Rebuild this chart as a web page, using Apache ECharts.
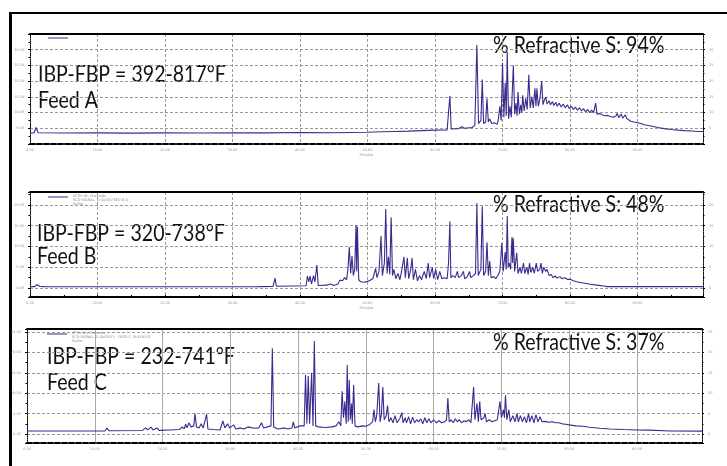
<!DOCTYPE html>
<html><head><meta charset="utf-8">
<script src="https://cdn.jsdelivr.net/npm/echarts@6/dist/echarts.min.js"></script>
<style>html,body{margin:0;padding:0;background:#fff}#c{width:727px;height:466px}</style>
</head><body><div id="c"></div>
<script>
// Retention time (min) / signal pairs
const feedA = [[0,0.70],[0.6,0.70],[0.9,1.05],[1.2,0.72],[5,0.70],[10,0.71],[15,0.69],[20,0.71],[25,0.70],[30,0.72],[35,0.71],[40,0.73],[45,0.72],[50,0.75],[52,0.78],[54,0.80],[56,0.82],[58,0.85],[60,0.88],[61.8,0.90],[62.0,2.0],[62.2,3.06],[62.4,0.95],[63.5,0.98],[64.0,1.10],[64.3,1.0],[65.5,1.05],[65.9,1.2],[66.2,6.3],[66.45,1.3],[66.8,1.5],[67.0,4.1],[67.2,1.3],[67.5,1.4],[67.7,2.9],[67.9,1.4],[68.1,1.6],[68.4,1.3],[68.8,1.35],[69.2,1.25],[69.4,1.6],[69.6,2.4],[69.8,1.5],[70.0,5.15],[70.2,1.7],[70.4,3.9],[70.55,1.8],[70.7,5.85],[70.9,1.6],[71.1,2.4],[71.3,1.7],[71.6,5.0],[71.8,1.9],[72.0,2.6],[72.15,1.8],[72.3,3.3],[72.5,1.9],[72.7,2.5],[72.85,2.0],[73.0,3.1],[73.2,2.1],[73.45,2.9],[73.65,2.2],[73.9,4.4],[74.1,2.3],[74.35,3.0],[74.55,2.3],[74.8,3.55],[74.95,2.4],[75.1,3.55],[75.3,2.4],[75.55,2.9],[75.8,4.0],[76.0,2.5],[76.2,2.8],[76.4,3.0],[76.6,2.55],[76.9,2.75],[77.1,2.5],[77.4,2.7],[77.6,2.45],[77.9,2.65],[78.1,2.4],[78.4,2.6],[78.7,2.35],[79.0,2.55],[79.3,2.3],[79.6,2.5],[79.9,2.25],[80.2,2.4],[80.5,2.2],[80.8,2.35],[81.1,2.15],[81.4,2.3],[81.7,2.1],[82.0,2.25],[82.3,2.05],[82.6,2.2],[82.9,2.0],[83.2,2.15],[83.5,2.0],[83.8,2.6],[84.0,1.9],[84.4,1.95],[84.8,1.85],[85.2,1.8],[85.6,1.82],[86.0,1.75],[86.4,1.7],[86.8,1.78],[87.0,1.95],[87.2,1.68],[87.6,1.9],[87.8,1.65],[88.2,1.85],[88.4,1.62],[89.0,1.45],[89.5,1.4],[90.0,1.35],[90.5,1.3],[91.0,1.22],[92.0,1.15],[93.0,1.05],[94.0,0.98],[95.0,0.92],[96.0,0.88],[97.0,0.85],[98.0,0.83],[99.0,0.8],[99.7,0.8]];
const feedB = [[0,0.07],[0.7,0.07],[1.0,0.17],[1.4,0.09],[2,0.07],[10,0.06],[20,0.06],[30,0.06],[34,0.07],[36.0,0.08],[36.3,0.48],[36.5,0.09],[39,0.1],[40.9,0.11],[41.1,0.58],[41.3,0.3],[41.5,0.58],[41.7,0.2],[42.0,0.6],[42.2,0.3],[42.5,1.1],[42.7,0.12],[44.0,0.14],[44.5,0.2],[45.0,0.12],[45.6,0.2],[45.9,0.38],[46.3,0.35],[46.6,0.5],[46.9,0.4],[47.1,0.9],[47.3,1.97],[47.5,0.7],[47.7,1.54],[47.9,0.6],[48.1,0.9],[48.3,3.03],[48.4,0.8],[48.5,2.95],[48.7,0.4],[49.0,0.3],[49.5,0.28],[50.0,0.32],[50.4,0.38],[50.8,0.45],[51.0,0.7],[51.2,0.95],[51.4,0.5],[51.7,0.8],[52.0,2.5],[52.2,0.6],[52.5,1.2],[52.7,3.8],[52.9,0.7],[53.1,1.5],[53.3,0.65],[53.5,3.4],[53.7,0.6],[53.9,0.9],[54.2,0.45],[54.5,0.7],[54.8,0.4],[55.1,0.9],[55.4,1.5],[55.6,0.5],[55.9,1.45],[56.1,0.45],[56.4,0.9],[56.6,1.45],[56.8,0.4],[57.1,0.9],[57.4,0.35],[57.7,0.6],[58.0,0.4],[58.4,0.8],[58.7,0.45],[59.0,1.2],[59.2,0.5],[59.6,1.0],[59.8,0.45],[60.1,0.9],[60.4,0.4],[60.7,0.8],[61.0,0.45],[61.4,0.5],[61.8,0.45],[62.0,1.2],[62.2,3.2],[62.35,0.5],[62.6,0.6],[63.0,0.5],[63.3,0.8],[63.5,0.5],[63.9,0.6],[64.2,0.8],[64.4,0.45],[64.8,0.55],[65.1,0.8],[65.3,0.5],[65.7,0.6],[66.0,0.7],[66.2,4.08],[66.4,0.6],[66.8,0.9],[67.0,3.94],[67.2,0.6],[67.5,0.8],[67.7,2.2],[67.9,0.6],[68.1,1.3],[68.3,0.5],[68.7,0.55],[69.0,0.45],[69.3,0.6],[69.6,0.8],[69.9,2.16],[70.1,0.8],[70.4,1.73],[70.55,0.9],[70.7,3.46],[70.85,1.0],[71.0,1.2],[71.2,0.9],[71.4,2.45],[71.5,1.2],[71.6,2.4],[71.8,0.8],[72.1,1.7],[72.3,0.7],[72.6,1.0],[72.8,0.7],[73.1,1.2],[73.3,0.7],[73.6,1.0],[73.8,0.65],[74.0,1.2],[74.2,0.75],[74.5,1.0],[74.7,0.7],[75.0,1.2],[75.2,0.8],[75.5,0.9],[75.7,1.2],[75.9,0.7],[76.1,1.0],[76.4,0.8],[76.6,0.9],[76.9,0.6],[77.2,0.65],[77.5,0.5],[77.8,0.58],[78.1,0.48],[78.5,0.55],[78.8,0.45],[79.2,0.5],[79.6,0.42],[80.0,0.42],[80.5,0.35],[81.0,0.3],[81.5,0.27],[82.0,0.24],[83.0,0.18],[84.0,0.14],[85.0,0.1],[85.5,0.07],[90,0.07],[99.7,0.07]];
const feedC = [[0,0.15],[5,0.15],[11.5,0.15],[11.8,0.29],[12.1,0.16],[17.0,0.17],[17.5,0.3],[17.8,0.2],[18.3,0.34],[18.6,0.2],[19.2,0.3],[19.5,0.18],[21,0.2],[22.5,0.22],[22.9,0.35],[23.2,0.25],[23.4,0.49],[23.6,0.3],[23.9,0.55],[24.2,0.35],[24.6,0.4],[24.8,1.0],[25.0,0.35],[25.4,0.3],[25.7,0.5],[26.0,0.3],[26.5,0.97],[26.7,0.25],[27.5,0.22],[28.5,0.2],[28.9,0.64],[29.2,0.3],[29.6,0.5],[29.9,0.3],[30.5,0.45],[30.8,0.25],[31.5,0.3],[32.0,0.25],[32.6,0.35],[33.5,0.28],[34.2,0.3],[34.6,0.55],[34.9,0.3],[35.5,0.35],[36.0,0.4],[36.2,4.2],[36.4,0.35],[37.0,0.25],[38.0,0.3],[38.5,0.25],[39.1,0.3],[39.3,0.6],[39.5,0.3],[40.3,0.4],[40.9,0.4],[41.1,2.9],[41.3,0.5],[41.5,2.85],[41.7,0.5],[42.0,3.0],[42.2,0.4],[42.4,4.56],[42.6,0.4],[43.0,0.35],[44.0,0.32],[45.0,0.35],[45.6,0.4],[46.0,0.6],[46.3,0.4],[46.5,2.1],[46.7,0.8],[46.9,1.6],[47.1,0.5],[47.25,3.38],[47.4,0.6],[47.55,2.65],[47.7,0.7],[47.9,1.5],[48.0,0.5],[48.2,2.4],[48.4,0.4],[48.8,0.35],[49.5,0.4],[50.0,0.38],[50.5,0.45],[51.0,0.6],[51.2,1.2],[51.4,0.6],[51.6,0.9],[51.9,2.5],[52.1,0.6],[52.3,1.0],[52.5,2.3],[52.7,0.7],[53.0,0.9],[53.2,1.4],[53.4,0.6],[53.7,0.8],[54.0,0.55],[54.3,0.9],[54.6,0.55],[55.0,0.75],[55.3,1.05],[55.5,0.55],[55.8,0.8],[56.0,0.55],[56.3,0.85],[56.6,0.5],[56.9,0.83],[57.2,0.55],[57.5,0.7],[57.8,0.6],[58.1,0.75],[58.4,0.5],[58.7,0.8],[59.0,0.55],[59.3,0.75],[59.6,0.55],[60.0,0.7],[60.4,0.55],[60.8,0.65],[61.2,0.55],[61.6,0.6],[61.9,0.7],[62.1,1.76],[62.3,0.6],[62.6,0.7],[62.9,0.55],[63.2,0.75],[63.5,0.6],[63.8,0.7],[64.1,0.55],[64.5,0.65],[64.8,0.6],[65.2,0.7],[65.5,0.55],[65.9,2.3],[66.1,0.7],[66.4,1.5],[66.6,0.6],[66.8,1.6],[67.0,0.7],[67.4,0.8],[67.6,1.0],[67.8,0.6],[68.2,0.7],[68.6,0.6],[69.0,0.65],[69.4,0.7],[69.8,1.6],[70.0,0.8],[70.3,1.2],[70.45,0.8],[70.6,1.9],[70.8,0.7],[71.1,1.2],[71.3,0.6],[71.7,0.9],[72.0,0.6],[72.3,1.0],[72.5,0.6],[72.8,0.9],[73.1,0.6],[73.4,0.85],[73.7,0.55],[74.0,1.0],[74.2,0.6],[74.5,0.9],[74.8,0.55],[75.1,0.95],[75.4,0.6],[75.7,0.85],[76.0,0.6],[76.5,0.62],[77.0,0.58],[77.5,0.6],[78.0,0.55],[78.5,0.55],[79.0,0.5],[79.5,0.48],[80.0,0.45],[81.0,0.4],[82.0,0.38],[83.0,0.33],[84.5,0.28],[86.0,0.25],[88.0,0.22],[90.0,0.2],[91.8,0.19],[92.0,0.15],[95.0,0.15],[99.6,0.14]];

const ibpLabels = ['IBP-FBP = 392-817°F', 'IBP-FBP = 320-738°F', 'IBP-FBP = 232-741°F'];
const feedLabels = ['Feed A', 'Feed B', 'Feed C'];
const sulfurLabels = ['% Refractive S: 94%', '% Refractive S: 48%', '% Refractive S: 37%'];
const xTickLabels = ['0.00','10.00','20.00','30.00','40.00','50.00','60.00','70.00','80.00','90.00'];

const LINE = '#3c2a8e';
const grids = [
  {left:30, top:34, width:673, height:110},
  {left:30, top:192, width:673, height:105},
  {left:27, top:329, width:675, height:114}
];
const yRange = [[0,7],[-0.43,4.62],[-0.44,5.15]];
const xMax = [99.7, 99.7, 99.6];
const bottomType = [[5,2],'solid',[5,2]];
const vGridType = [[3,2],[3,2],'solid'];

const tiny = {fontSize:3.5, color:'#999', fontFamily:'DejaVu Sans'};
const xAxes = [], yAxes = [], series = [];
const seriesData = [feedA, feedB, feedC];
for (let i = 0; i < 3; i++) {
  xAxes.push({
    gridIndex:i, type:'value', min:0, max:xMax[i], interval:10, position:'bottom',
    axisLine:{show:true, onZero:false, lineStyle:{color:'#000', width:2, type:bottomType[i]}},
    axisTick:{show:i===1, inside:true, length:2, lineStyle:{color:'#000'}},
    minorTick:{show:i===1, splitNumber:2, length:2, lineStyle:{color:'#000'}},
    axisLabel:Object.assign({margin:4, showMaxLabel:false, formatter:(v)=>{const k=Math.round(v/10); return (Math.abs(v-k*10)<1e-6 && xTickLabels[k]) ? xTickLabels[k] : '';}}, tiny),
    splitLine:{show:true, lineStyle:{color: i===2 ? '#aaa' : '#999', width:1, type:vGridType[i]}},
    name: i<2 ? 'Minutes' : '——', nameLocation:'middle', nameGap:9, nameTextStyle:tiny
  });
  xAxes.push({
    gridIndex:i, type:'value', min:0, max:xMax[i], position:'top',
    axisLine:{show:true, onZero:false, lineStyle:{color:'#000', width:2}},
    axisTick:{show:false}, axisLabel:{show:false}, splitLine:{show:false}
  });
  yAxes.push({
    gridIndex:i, type:'value', min:yRange[i][0], max:yRange[i][1], splitNumber: i===0 ? 7 : 5, position:'left',
    axisLine:{show:true, onZero:false, lineStyle:{color:'#000', width:1, type:'dotted'}},
    axisTick:{show:true, length:2, lineStyle:{color:'#000'}},
    minorTick:{show:true, splitNumber:2, length:1.5, lineStyle:{color:'#000'}},
    axisLabel:Object.assign({margin:6, showMinLabel:false, showMaxLabel:false, formatter:(v)=> (v*5).toFixed(2)}, tiny),
    splitLine:{show:true, lineStyle:{color:'#999', width:1, type:[3,2]}}
  });
  yAxes.push({
    gridIndex:i, type:'value', min:yRange[i][0], max:yRange[i][1], splitNumber: i===0 ? 7 : 5, position:'right',
    axisLine:{show:true, onZero:false, lineStyle:{color:'#000', width:1, type:'dotted'}},
    axisTick:{show:true, length:2, lineStyle:{color:'#000'}},
    minorTick:{show:true, splitNumber:2, length:1.5, lineStyle:{color:'#000'}},
    axisLabel:Object.assign({margin:6, showMinLabel:false, showMaxLabel:false, formatter:(v)=> (v*5).toFixed(0)}, tiny),
    splitLine:{show:false}
  });
  series.push({
    type:'line', xAxisIndex:2*i, yAxisIndex:2*i, data:seriesData[i], showSymbol:false, symbol:'none',
    lineStyle:{color:LINE, width:1.1}, animation:false, clip:true
  });
}

const graphics = [
  {type:'rect', shape:{x:9, y:12, width:718, height:2}, style:{fill:'#000'}},
  {type:'rect', shape:{x:9, y:12, width:3, height:454}, style:{fill:'#000'}}
];
const textPos = [
  {ibp:[38,74.5], feed:[38,100.5], s:[493,46], leg:[48,38]},
  {ibp:[37,233.5], feed:[37,256.5], s:[493,205], leg:[48,197]},
  {ibp:[47,357], feed:[47,382.5], s:[493,342.5], leg:[47,334]}
];
const legendNotes = [[], ['ATTN 1B, Channels', 'SCD SIGNAL, C:\\DATA\\FEED B.D', 'Sulfur'], ['ATTN 1B, Channels', 'SCD SIGNAL, C:\\DATA\\F1   FEED C, SULFUR.D', 'Sulfur']];
for (let i = 0; i < 3; i++) {
  const p = textPos[i];
  const font = {fontFamily:'Lato', fontSize:23, fill:'#111'};
  const mk = (pos, txt) => ({type:'text', x:pos[0], y:pos[1], scaleX:0.85, style:Object.assign({text:txt, verticalAlign:'middle'}, font)});
  graphics.push(mk(p.ibp, ibpLabels[i]));
  graphics.push(mk(p.feed, feedLabels[i]));
  graphics.push(mk(p.s, sulfurLabels[i]));
  graphics.push({type:'line', shape:{x1:p.leg[0], y1:p.leg[1], x2:p.leg[0]+20, y2:p.leg[1]}, style:{stroke:LINE, lineWidth:1}});
  legendNotes[i].forEach((t, k) => {
    graphics.push({type:'text', x:p.leg[0]+25, y:p.leg[1]-3+k*4, style:{text:t, fontSize:3.5, fill:'#888', fontFamily:'DejaVu Sans'}});
  });
}

const chart = echarts.init(document.getElementById('c'), null, {renderer:'canvas'});
chart.setOption({
  backgroundColor:'#fff', animation:false,
  grid: grids, xAxis: xAxes, yAxis: yAxes, series: series, graphic: graphics
});
</script></body></html>
